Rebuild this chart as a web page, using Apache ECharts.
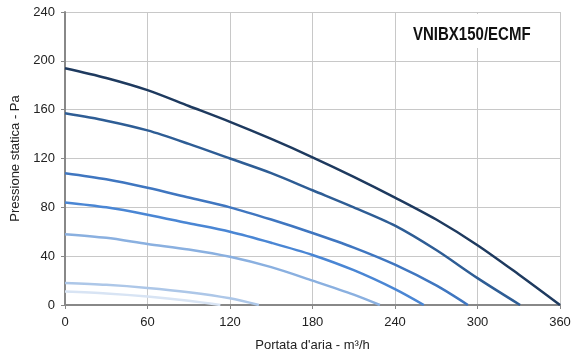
<!DOCTYPE html>
<html><head><meta charset="utf-8">
<script src="https://cdn.jsdelivr.net/npm/echarts@6/dist/echarts.min.js"></script>
<style>html,body{margin:0;padding:0;background:#fff}#c{width:587px;height:354px}</style>
</head><body><div id="c"></div>
<script>
const chartTitle = "VNIBX150/ECMF";
const xName = "Portata d'aria - m³/h";
const yName = "Pressione statica - Pa";
const curve1 = [[0,194],[30,186],[60,176],[90,163],[120,150],[150,136],[180,121],[210,105],[240,88],[270,70],[300,49],[330,25],[360,0]];
const curve2 = [[0,157],[30,151],[60,143],[90,132],[120,120],[150,108],[180,94],[210,80],[240,65],[270,45],[300,22],[331,0]];
const curve3 = [[0,108],[30,103],[60,96],[90,88],[120,80],[150,70],[180,59],[210,47],[240,33],[270,16],[293,0]];
const curve4 = [[0,84],[30,80],[60,74],[90,67],[120,60],[150,51],[180,41],[210,28.5],[240,13],[261,0]];
const curve5 = [[0,58],[30,55],[60,50],[90,45.5],[120,39.5],[150,31],[180,20],[210,8.5],[229,0]];
const curve6 = [[0,18],[30,16.5],[60,14],[90,10.5],[120,5.5],[141,0]];
const curve7 = [[0,11],[30,9.5],[60,7],[90,3.5],[113,0]];
const curves = [curve1,curve2,curve3,curve4,curve5,curve6,curve7];
const colors = ['#1e3a5f','#2e5d95','#3f76c0','#4a86d4','#8ab0e0','#adc7e8','#d8e4f4'];

const chart = echarts.init(document.getElementById('c'));
chart.setOption({
  animation:false,
  backgroundColor:'#fff',
  graphic:[
    {type:'rect',left:405,top:14,z:100,shape:{width:135,height:34},style:{fill:'#fff'}},
    {type:'text',x:413,y:25,z:101,scaleX:0.79,
      style:{text:chartTitle,fontFamily:'Liberation Sans, Arial',fontWeight:'bold',fontSize:19,fill:'#111'}}
  ],
  grid:{left:65,right:27,top:12,bottom:49,outerBoundsMode:'none',containLabel:false},
  xAxis:{type:'value',min:0,max:360,interval:60,
    name:xName,nameLocation:'middle',nameGap:34,
    nameTextStyle:{fontFamily:'Liberation Sans, Arial',fontSize:13,color:'#222'},
    axisLine:{show:true,lineStyle:{color:'#888',width:2}},
    axisTick:{show:true,length:4,lineStyle:{color:'#888'}},
    axisLabel:{fontFamily:'Liberation Sans, Arial',fontSize:13,color:'#222',margin:11},
    splitLine:{show:true,lineStyle:{color:'#c8c8c8',width:1}}},
  yAxis:{type:'value',min:0,max:240,interval:40,
    name:yName,nameLocation:'middle',nameGap:41,
    nameTextStyle:{fontFamily:'Liberation Sans, Arial',fontSize:13,color:'#222'},
    axisLine:{show:true,lineStyle:{color:'#888',width:2}},
    axisTick:{show:true,length:4,lineStyle:{color:'#888'}},
    axisLabel:{fontFamily:'Liberation Sans, Arial',fontSize:13,color:'#222',margin:10},
    splitLine:{show:true,lineStyle:{color:'#c8c8c8',width:1}}},
  series: curves.map((d,i)=>({type:'line',data:d,smooth:0.3,showSymbol:false,z:10-i,
    lineStyle:{color:colors[i],width:2.5}}))
});
</script></body></html>
